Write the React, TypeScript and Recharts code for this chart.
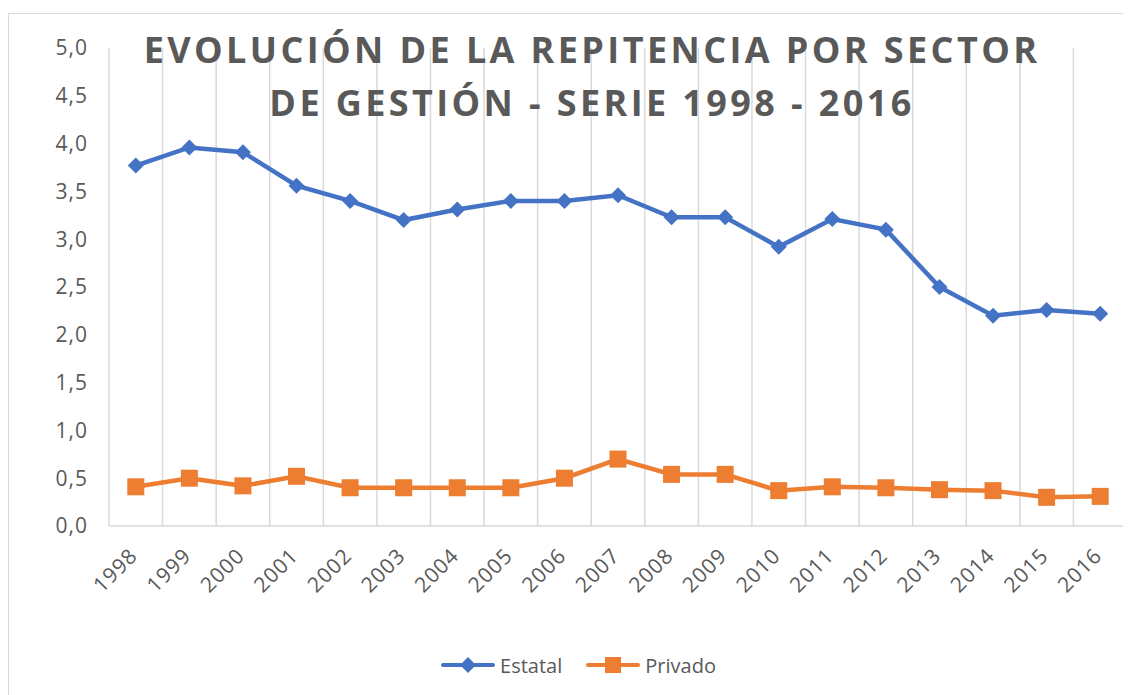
import React from 'react';
import {
  LineChart,
  Line,
  XAxis,
  YAxis,
  CartesianGrid,
  Legend,
} from 'recharts';

const years = [
  '1998', '1999', '2000', '2001', '2002', '2003', '2004', '2005', '2006', '2007',
  '2008', '2009', '2010', '2011', '2012', '2013', '2014', '2015', '2016',
];
const estatal = [
  3.77, 3.96, 3.91, 3.56, 3.4, 3.2, 3.31, 3.4, 3.4, 3.46,
  3.23, 3.23, 2.92, 3.21, 3.1, 2.5, 2.2, 2.26, 2.22,
];
const privado = [
  0.41, 0.5, 0.42, 0.52, 0.4, 0.4, 0.4, 0.4, 0.5, 0.7,
  0.54, 0.54, 0.37, 0.41, 0.4, 0.38, 0.37, 0.3, 0.31,
];
const yTicks = [0, 0.5, 1, 1.5, 2, 2.5, 3, 3.5, 4, 4.5, 5];
const titleLines = [
  'EVOLUCIÓN DE LA REPITENCIA POR SECTOR',
  'DE GESTIÓN - SERIE 1998 - 2016',
];

const BLUE = '#4472C4';
const ORANGE = '#ED7D31';
const GRID = '#D9D9D9';
const TEXT = '#595959';
const FONT = '"Open Sans", sans-serif';

const data = years.map((year, i) => ({
  i,
  year,
  estatal: estatal[i],
  privado: privado[i],
}));

const fmt = (v: number) => v.toFixed(1).replace('.', ',');

function Diamond({ cx, cy }: { cx?: number; cy?: number }) {
  if (cx == null || cy == null) return null;
  const r = 8;
  return (
    <polygon
      points={`${cx},${cy - r} ${cx + r},${cy} ${cx},${cy + r} ${cx - r},${cy}`}
      fill={BLUE}
    />
  );
}

function Square({ cx, cy }: { cx?: number; cy?: number }) {
  if (cx == null || cy == null) return null;
  const s = 17;
  return <rect x={cx - s / 2} y={cy - s / 2} width={s} height={s} fill={ORANGE} />;
}

function YearTick({ x, y, payload }: { x?: number; y?: number; payload?: { value: number } }) {
  return (
    <g transform={`translate(${(x ?? 0) + 3},${(y ?? 0) + 23})`}>
      <text
        x={0}
        y={0}
        textAnchor="end"
        transform="rotate(-45)"
        fill={TEXT}
        fontSize={21}
        letterSpacing={1}
        fontFamily={FONT}
      >
        {years[payload?.value ?? 0]}
      </text>
    </g>
  );
}

function LegendIcon({ color, shape }: { color: string; shape: 'diamond' | 'square' }) {
  return (
    <svg width={54} height={20} style={{ display: 'block' }}>
      <line x1={2} y1={10} x2={52} y2={10} stroke={color} strokeWidth={4} strokeLinecap="round" />
      {shape === 'diamond' ? (
        <polygon points="27,2 35,10 27,18 19,10" fill={color} />
      ) : (
        <rect x={19} y={2} width={16} height={16} fill={color} />
      )}
    </svg>
  );
}

function ChartLegend() {
  const items = [
    { name: 'Estatal', color: BLUE, shape: 'diamond' as const },
    { name: 'Privado', color: ORANGE, shape: 'square' as const },
  ];
  return (
    <div
      style={{
        height: 30,
        display: 'flex',
        justifyContent: 'center',
        alignItems: 'center',
        paddingLeft: 22,
        fontFamily: FONT,
        fontSize: 20,
        color: TEXT,
      }}
    >
      {items.map((it, idx) => (
        <div
          key={it.name}
          style={{ display: 'flex', alignItems: 'center', marginLeft: idx ? 24 : 0 }}
        >
          <LegendIcon color={it.color} shape={it.shape} />
          <span style={{ marginLeft: 5 }}>{it.name}</span>
        </div>
      ))}
    </div>
  );
}

export default function App() {
  return (
    <div style={{ position: 'relative', width: 1123, height: 687, overflow: 'hidden', background: '#fff' }}>
      <div
        style={{
          position: 'absolute',
          left: 0,
          top: 5,
          width: 1160,
          height: 720,
          border: `1.5px solid ${GRID}`,
          boxSizing: 'border-box',
        }}
      />
      <LineChart
        width={1123}
        height={687}
        data={data}
        margin={{ top: 40, right: 4, left: 0, bottom: 15 }}
      >
        <CartesianGrid
          horizontal={false}
          stroke={GRID}
          strokeWidth={1.5}
          verticalCoordinatesGenerator={({ offset }: any) =>
            years.concat(['end']).map((_, k) => offset.left + (offset.width * k) / years.length)
          }
        />
        <XAxis
          type="number"
          dataKey="i"
          domain={[-0.5, years.length - 0.5]}
          ticks={years.map((_, k) => k)}
          interval={0}
          height={124}
          tickLine={false}
          axisLine={{ stroke: GRID, strokeWidth: 1.5 }}
          tick={<YearTick />}
        />
        <YAxis
          type="number"
          domain={[0, 5]}
          ticks={yTicks}
          width={101}
          tickLine={false}
          axisLine={false}
          tickSize={0}
          tickMargin={21}
          tickFormatter={fmt}
          tick={{ fill: TEXT, fontSize: 21, fontFamily: FONT, letterSpacing: 1 }}
        />
        <Legend verticalAlign="bottom" content={<ChartLegend />} />
        <Line
          dataKey="estatal"
          name="Estatal"
          stroke={BLUE}
          strokeWidth={4.5}
          dot={<Diamond />}
          activeDot={false}
          isAnimationActive={false}
        />
        <Line
          dataKey="privado"
          name="Privado"
          stroke={ORANGE}
          strokeWidth={4.5}
          dot={<Square />}
          activeDot={false}
          isAnimationActive={false}
        />
      </LineChart>
      <div
        style={{
          position: 'absolute',
          left: 0,
          top: 15,
          width: 1168,
          textAlign: 'center',
          fontFamily: FONT,
          fontWeight: 700,
          fontSize: 36,
          lineHeight: '53px',
          letterSpacing: 3.4,
          color: TEXT,
          pointerEvents: 'none',
        }}
      >
        {titleLines.map((t) => (
          <div key={t}>{t}</div>
        ))}
      </div>
    </div>
  );
}
